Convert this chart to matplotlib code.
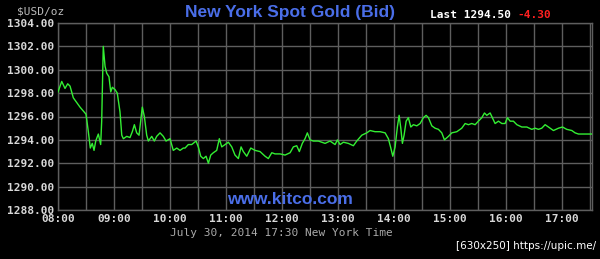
import matplotlib
matplotlib.use("Agg")

import matplotlib.pyplot as plt
import matplotlib.dates as mdates
import matplotlib.ticker as mticker
import pandas as pd

# ── Data (minutes after 08:00, bid price) ────
minutes = [
    0, 4, 7.5, 10.4, 12.9, 16.4, 23.6, 30, 32.5, 34.6, 36.7, 38.6, 40.4,
    43.2, 45.7, 46.8, 48.5, 50.4, 52.2, 54.6, 56.5, 58.2, 61.1, 63.5, 66.4,
    68.3, 70, 73.6, 77.1, 79.6, 81.8, 84.3, 86.8, 90.3, 92.5, 95, 96.8,
    100.4, 103.2, 105.7, 109.3, 112.8, 115.7, 120, 123.5, 127.2, 130.7,
    134.2, 136.1, 139.6, 143.2, 147.9, 150.3, 152.9, 155.7, 158.6, 161.1,
    163.6, 166.4, 170, 172.8, 175.4, 179, 182.5, 186.1, 189.6, 193.2,
    196.1, 198.5, 202.2, 206.5, 211.1, 216.4, 221.8, 225.3, 229, 232.5,
    237.9, 243.2, 248.6, 252.1, 255.7, 258.5, 261.7, 264.6, 267.1, 270,
    273.5, 278.9, 286.1, 291.4, 296.8, 299.3, 302.1, 305.7, 311, 316.4,
    320, 325.4, 330.7, 334.3, 339.6, 345, 350.4, 353.9, 356.5, 358.6,
    361.1, 363.5, 365.4, 367.2, 368.9, 370.7, 372.9, 375.3, 377.9, 380.7,
    384.3, 387.9, 391.4, 394.3, 396.8, 400.4, 403.9, 407.5, 411.1, 413.9,
    418.2, 421.8, 427.2, 432.5, 436.1, 439.6, 443.2, 446.8, 450.3, 454,
    456.8, 459.3, 462.9, 465.3, 468.2, 471.8, 475.4, 478.9, 481.4, 484.3,
    487.8, 491.5, 496.8, 502.2, 507.5, 511.1, 514.6, 518.2, 521.8, 525.4,
    530.7, 536.1, 540.4, 545, 550.4, 553.9, 557.5, 564.6, 571.8,
]
bid = [
    1298.1, 1299.0, 1298.4, 1298.8, 1298.6, 1297.6, 1296.8, 1296.2, 1294.7,
    1293.3, 1293.7, 1293.1, 1293.9, 1294.5, 1293.6, 1295.6, 1302.0, 1300.3,
    1299.7, 1299.4, 1298.1, 1298.5, 1298.3, 1298.0, 1296.4, 1294.4, 1294.1,
    1294.3, 1294.2, 1294.7, 1295.3, 1294.6, 1294.4, 1296.8, 1296.0, 1294.4,
    1293.9, 1294.3, 1293.9, 1294.3, 1294.6, 1294.3, 1293.9, 1294.1, 1293.1,
    1293.3, 1293.1, 1293.3, 1293.3, 1293.6, 1293.6, 1293.9, 1293.4, 1292.6,
    1292.4, 1292.6, 1292.0, 1292.7, 1292.9, 1293.1, 1294.1, 1293.4, 1293.6,
    1293.8, 1293.4, 1292.7, 1292.4, 1293.4, 1293.0, 1292.6, 1293.3, 1293.1,
    1293.0, 1292.6, 1292.4, 1292.9, 1292.8, 1292.8, 1292.7, 1292.9, 1293.4,
    1293.5, 1293.0, 1293.7, 1294.1, 1294.6, 1294.0, 1293.9, 1293.9, 1293.7,
    1293.9, 1293.6, 1294.0, 1293.6, 1293.8, 1293.7, 1293.5, 1293.9, 1294.4,
    1294.6, 1294.8, 1294.7, 1294.7, 1294.6, 1294.1, 1293.3, 1292.6, 1293.4,
    1295.1, 1296.1, 1295.0, 1293.7, 1294.4, 1295.6, 1295.9, 1295.1, 1295.3,
    1295.2, 1295.4, 1295.9, 1296.1, 1295.9, 1295.2, 1295.0, 1294.9, 1294.6,
    1294.0, 1294.3, 1294.6, 1294.7, 1295.0, 1295.4, 1295.3, 1295.4, 1295.3,
    1295.6, 1295.9, 1296.3, 1296.1, 1296.3, 1295.9, 1295.4, 1295.6, 1295.4,
    1295.4, 1295.9, 1295.6, 1295.6, 1295.3, 1295.1, 1295.1, 1294.9, 1295.0,
    1294.9, 1295.0, 1295.3, 1295.1, 1294.8, 1295.0, 1295.1, 1294.9, 1294.8,
    1294.6, 1294.5, 1294.5, 1294.5,
]
y_ticks = [1288, 1290, 1292, 1294, 1296, 1298, 1300, 1302, 1304]
last_price = "1294.50"
change = "-4.30"

# ── Figure: black Kitco style ─────────────────────────────────────────
MONO = "DejaVu Sans Mono"
GRID = "#5e5e5e"
LABEL = "#d8d8d8"
BLUE = "#4a6ee8"

fig = plt.figure(figsize=(6.0, 2.59), dpi=100)
fig.patch.set_facecolor("black")
ax = fig.add_axes([58 / 600, 1 - 210 / 259, 534 / 600, 187 / 259])
ax.set_facecolor("black")

start = pd.Timestamp("2014-07-30 08:00")
times = start + pd.to_timedelta(minutes, unit="m")

ax.plot(times, bid, color="#33ee33", linewidth=1.0, zorder=3)

ax.set_xlim(start, start + pd.Timedelta(minutes=572))
ax.set_ylim(1288, 1304)

# hour labels, grid every half hour
ax.xaxis.set_major_locator(mdates.HourLocator())
ax.xaxis.set_minor_locator(mdates.MinuteLocator(byminute=[30]))
ax.xaxis.set_major_formatter(mdates.DateFormatter("%H:%M"))
ax.set_yticks(y_ticks)
ax.yaxis.set_major_formatter(mticker.FormatStrFormatter("%.2f"))

ax.grid(True, which="both", color=GRID, linewidth=1.0)
ax.set_axisbelow(True)
ax.tick_params(which="both", length=0, colors=LABEL, labelsize=8, pad=3)
for lab in ax.get_xticklabels() + ax.get_yticklabels():
    lab.set_fontfamily(MONO)
    lab.set_fontweight("bold")
for side in ax.spines.values():
    side.set_color(GRID)
    side.set_linewidth(1.0)

# ── Text around the chart ─────────────────────────────────────────────
fig.text(41 / 600, 1 - 11 / 259, "$USD/oz", family=MONO, fontsize=8,
         color="#bbbbbb", ha="center", va="center")
fig.text(290 / 600, 1 - 12 / 259, "New York Spot Gold (Bid)",
         family="Liberation Sans", fontweight="bold", fontsize=12.5,
         color=BLUE, ha="center", va="center")
fig.text(430 / 600, 1 - 15 / 259, f"Last {last_price}", family=MONO,
         fontweight="bold", fontsize=8, color="white", ha="left", va="center")
fig.text(517 / 600, 1 - 15 / 259, change, family=MONO, fontweight="bold",
         fontsize=8, color="#ff2020", ha="left", va="center")
ax.text(0.435, 0.055, "www.kitco.com", transform=ax.transAxes,
        family="Liberation Sans", fontweight="bold", fontsize=12.5,
        color=BLUE, ha="center", va="center")
fig.text(281 / 600, 1 - 233 / 259, "July 30, 2014 17:30 New York Time",
         family=MONO, fontsize=8, color="#aaaaaa", ha="center", va="center")
fig.text(596 / 600, 1 - 246 / 259, "[630x250] https://upic.me/",
         family="DejaVu Sans", fontsize=7.5, color="white",
         ha="right", va="center")

fig.savefig("out.png", dpi=100, facecolor=fig.get_facecolor())
